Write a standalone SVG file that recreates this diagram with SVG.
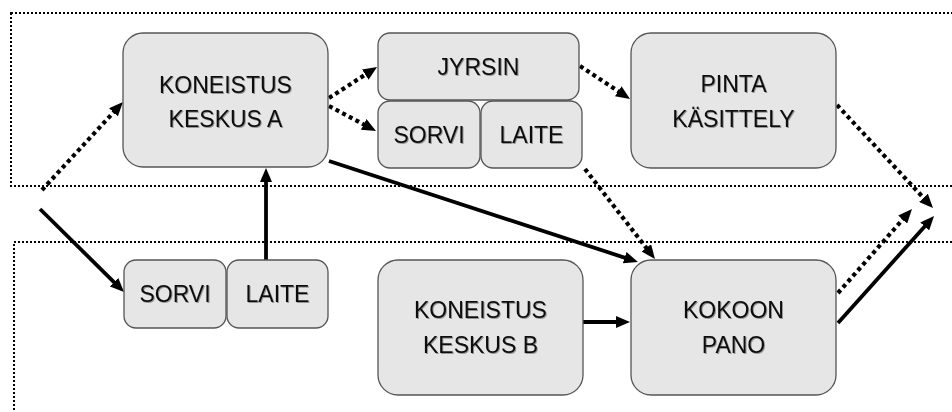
<svg xmlns="http://www.w3.org/2000/svg" width="952" height="412" viewBox="0 0 952 412">
  <style>
    .frame { fill: none; stroke: #000; stroke-width: 2; stroke-dasharray: 2 2; }
    .box { fill: #e6e6e6; stroke: #555; stroke-width: 1.3; }
    .lbl { font-family: "Liberation Sans", Arial, sans-serif; font-size: 23px; fill: #111; text-anchor: middle; filter: url(#tshadow); }
    .solid { fill: none; stroke: #000; stroke-width: 3.8; marker-end: url(#ah); }
    .dot { fill: none; stroke: #000; stroke-width: 4.2; stroke-dasharray: 4 3.5; marker-end: url(#ah); }
  </style>
  <defs>
    <marker id="ah" markerUnits="userSpaceOnUse" markerWidth="14" markerHeight="12" viewBox="0 0 14 12" refX="3" refY="6" orient="auto">
      <path d="M0,0 L14,6 L0,12 z" fill="#000"/>
    </marker>
    <filter id="tshadow" x="-10%" y="-20%" width="130%" height="150%">
      <feDropShadow dx="1" dy="1" stdDeviation="0.7" flood-color="#000" flood-opacity="0.35"/>
    </filter>
  </defs>
  <rect width="952" height="412" fill="#fff"/>

  <g id="zones">
    <rect class="frame" x="11" y="13" width="960" height="173"/>
    <rect class="frame" x="14" y="242" width="960" height="190"/>
  </g>

  <g id="connectors">
    <path class="dot" d="M42,190 L115.5,110.1"/>
    <path class="solid" d="M40,209 L116.2,284.3"/>
    <path class="solid" d="M266,260 L266,179"/>
    <path class="dot" d="M329,98 L367.8,73"/>
    <path class="dot" d="M329,106 L366.3,125.8"/>
    <path class="solid" d="M329,161 L627.5,258.6"/>
    <path class="dot" d="M580,66 L620.8,92.9"/>
    <path class="dot" d="M585,169 L648.2,250.3"/>
    <path class="dot" d="M837,105 L925.5,200"/>
    <path class="solid" d="M583,322 L619,322"/>
    <path class="dot" d="M838,293 L904.7,217.3"/>
    <path class="solid" d="M838,323 L926.7,224.2"/>
  </g>

  <g id="keskusA">
    <rect class="box" x="123" y="33" width="205" height="134" rx="20"/>
    <text class="lbl" x="225.5" y="93">KONEISTUS</text>
    <text class="lbl" x="225.5" y="127">KESKUS A</text>
  </g>
  <g id="jyrsin">
    <rect class="box" x="378" y="33" width="201" height="67" rx="12"/>
    <text class="lbl" x="478.5" y="75">JYRSIN</text>
  </g>
  <g id="sorviTop">
    <rect class="box" x="378" y="101" width="102" height="67" rx="12"/>
    <text class="lbl" x="429" y="143">SORVI</text>
  </g>
  <g id="laiteTop">
    <rect class="box" x="481" y="101" width="101" height="67" rx="12"/>
    <text class="lbl" x="531.5" y="143">LAITE</text>
  </g>
  <g id="pinta">
    <rect class="box" x="631" y="33" width="205" height="135" rx="20"/>
    <text class="lbl" x="733.5" y="92">PINTA</text>
    <text class="lbl" x="733.5" y="127">KÄSITTELY</text>
  </g>
  <g id="sorviBottom">
    <rect class="box" x="124" y="260" width="102" height="68" rx="12"/>
    <text class="lbl" x="175" y="302">SORVI</text>
  </g>
  <g id="laiteBottom">
    <rect class="box" x="227" y="260" width="101" height="68" rx="12"/>
    <text class="lbl" x="277.5" y="302">LAITE</text>
  </g>
  <g id="keskusB">
    <rect class="box" x="378" y="260" width="205" height="135" rx="20"/>
    <text class="lbl" x="480.5" y="318">KONEISTUS</text>
    <text class="lbl" x="480.5" y="353">KESKUS B</text>
  </g>
  <g id="kokoonpano">
    <rect class="box" x="631" y="260" width="205" height="135" rx="20"/>
    <text class="lbl" x="733.5" y="318">KOKOON</text>
    <text class="lbl" x="733.5" y="353">PANO</text>
  </g>
</svg>
